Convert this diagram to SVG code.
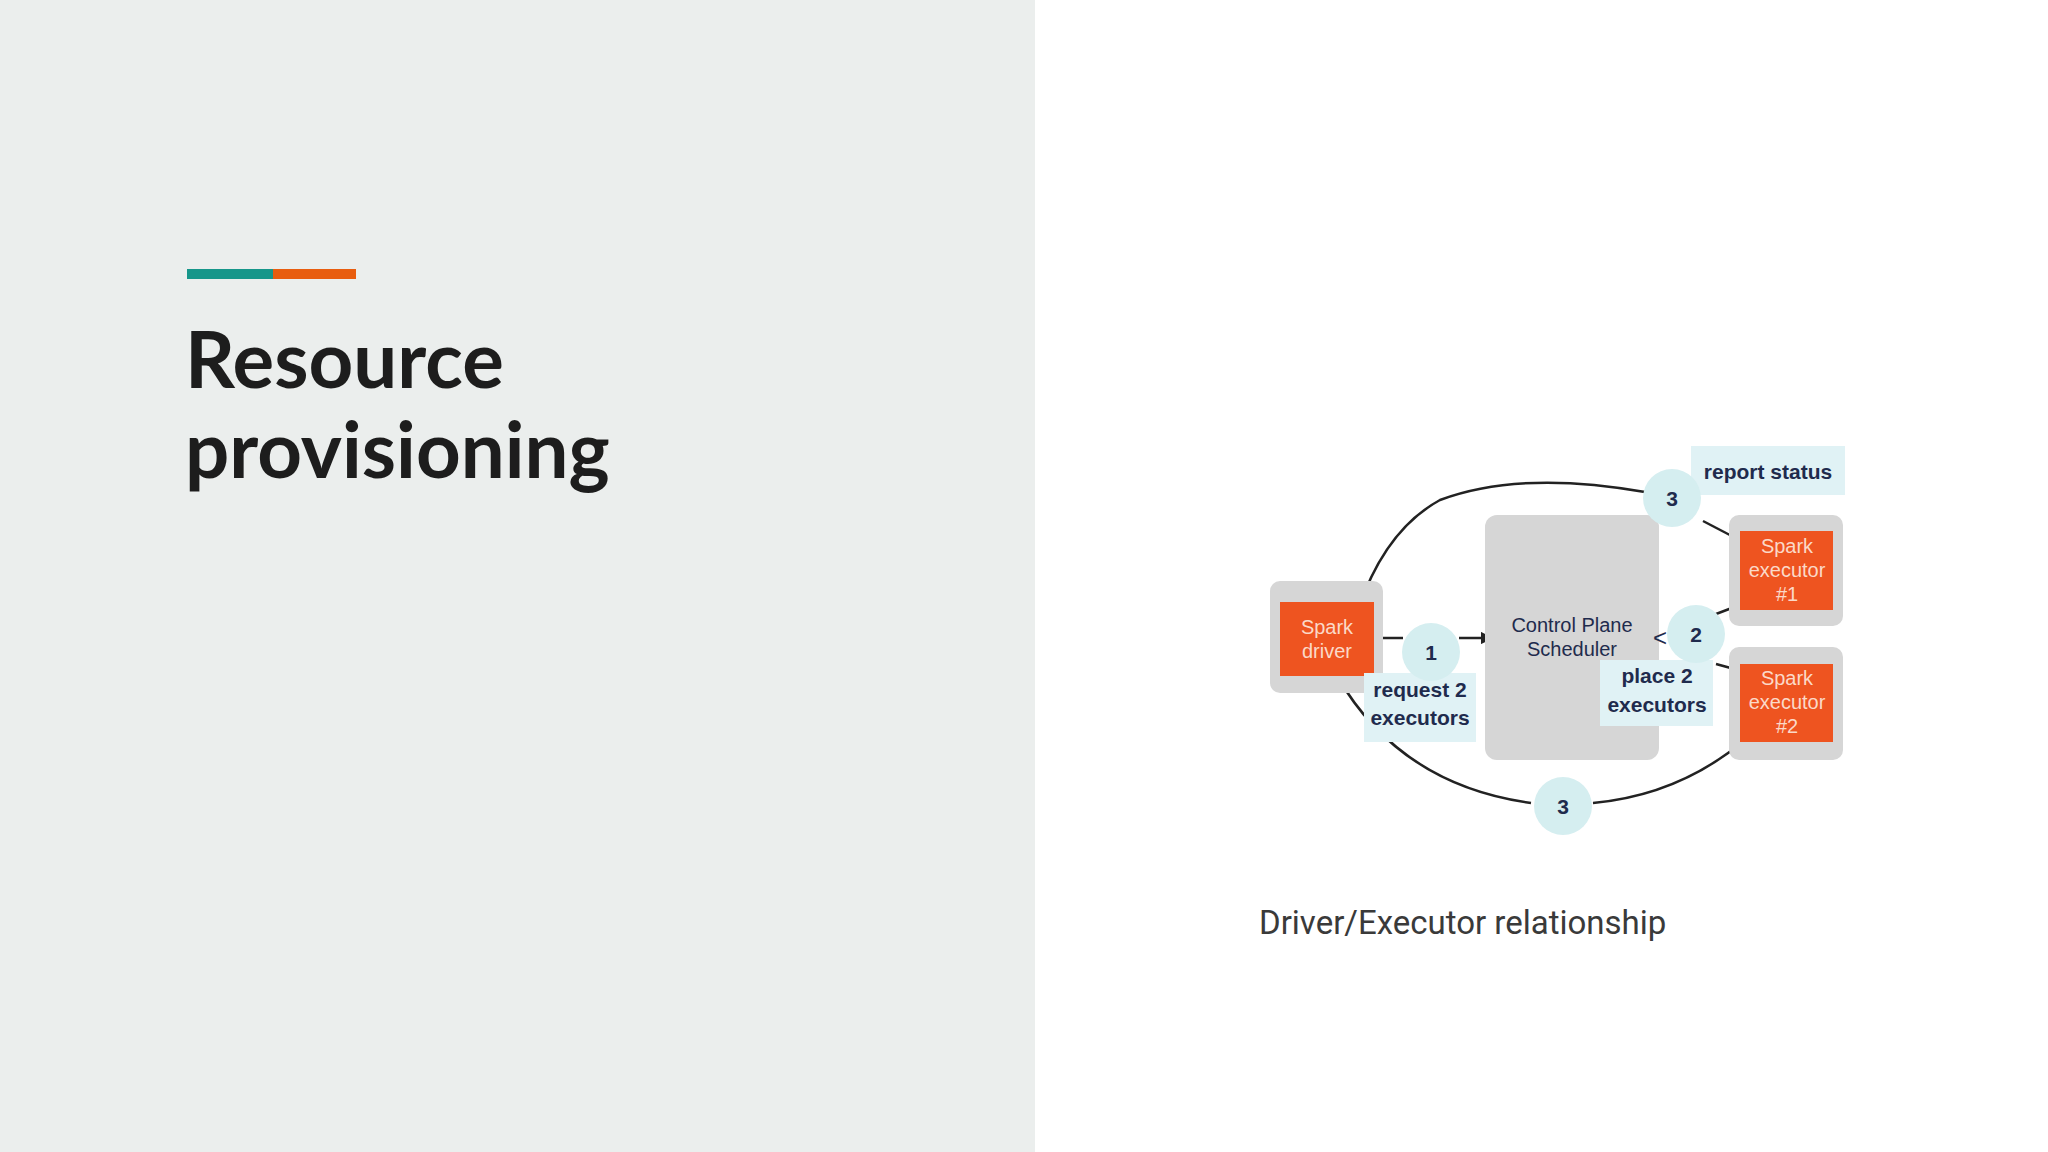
<svg xmlns="http://www.w3.org/2000/svg" width="2048" height="1152" viewBox="0 0 2048 1152">
<defs>
<style>
.t{font-family:"Liberation Sans",Arial,sans-serif;fill:#1f2b4d;font-weight:bold;text-anchor:middle}
.w{font-family:"Liberation Sans",Arial,sans-serif;fill:#fbd9c8;font-size:20px;text-anchor:middle}
.c{fill:#d5eef0}
.lb{fill:#e0f2f5}
.g{fill:#d6d6d6}
.o{fill:#ee5420}
.ln{fill:none;stroke:#222;stroke-width:2.5}
</style>
<marker id="a" viewBox="0 0 10 10" refX="9" refY="5" markerWidth="5" markerHeight="5" orient="auto"><path d="M0,0L10,5L0,10z" fill="#222"/></marker>
</defs>
<rect width="2048" height="1152" fill="#fff"/>
<rect width="1035" height="1152" fill="#ebeeed"/>
<rect x="187" y="269" width="86" height="10" fill="#16968a"/>
<rect x="273" y="269" width="83" height="10" fill="#e85d0f"/>
<text x="185" y="388" font-family="Lato,'Liberation Sans',sans-serif" font-weight="bold" font-size="78" fill="#1d1d1d">Resource</text>
<text x="185" y="478" font-family="Lato,'Liberation Sans',sans-serif" font-weight="bold" font-size="78" fill="#1d1d1d">provisioning</text>
<g id="connectors">
<path class="ln" d="M1645,492 Q1520,470 1440,500 Q1385,530 1358,610" marker-end="url(#a)"/>
<path class="ln" d="M1703,521 L1749,545" marker-end="url(#a)"/>
<path class="ln" d="M1746,739 Q1680,795 1593,803"/>
<path class="ln" d="M1531,803 Q1400,785 1337,676" marker-end="url(#a)"/>
<path class="ln" d="M1380,638 L1403,638"/>
<path class="ln" d="M1459,638 L1492,638" marker-end="url(#a)"/>
<path class="ln" d="M1716,614 L1745,603" marker-end="url(#a)"/>
<path class="ln" d="M1716,664 L1749,673" marker-end="url(#a)"/>
</g>
<g id="driver"><rect class="g" x="1270" y="581" width="113" height="112" rx="10"/><rect class="o" x="1280" y="602" width="94" height="74"/>
<text class="w" x="1327" y="634">Spark</text><text class="w" x="1327" y="658">driver</text></g>
<g id="scheduler"><rect class="g" x="1485" y="515" width="174" height="245" rx="12"/>
<text class="t" x="1572" y="632" font-size="20" font-weight="normal" style="font-weight:normal">Control Plane</text>
<text class="t" x="1572" y="656" font-size="20" style="font-weight:normal">Scheduler</text>
<text class="t" x="1660" y="646" font-size="24" style="font-weight:normal">&lt;</text></g>
<g id="exec1"><rect class="g" x="1729" y="515" width="114" height="111" rx="10"/><rect class="o" x="1740" y="531" width="93" height="79"/>
<text class="w" x="1787" y="553">Spark</text><text class="w" x="1787" y="577">executor</text><text class="w" x="1787" y="601">#1</text></g>
<g id="exec2"><rect class="g" x="1729" y="647" width="114" height="113" rx="10"/><rect class="o" x="1740" y="664" width="93" height="78"/>
<text class="w" x="1787" y="685">Spark</text><text class="w" x="1787" y="709">executor</text><text class="w" x="1787" y="733">#2</text></g>
<g id="label-report"><rect class="lb" x="1691" y="446" width="154" height="49"/><text class="t" x="1768" y="479" font-size="21">report status</text></g>
<g id="label-request"><rect class="lb" x="1364" y="673" width="112" height="69"/><text class="t" x="1420" y="697" font-size="21">request 2</text><text class="t" x="1420" y="725" font-size="21">executors</text></g>
<g id="label-place"><rect class="lb" x="1600" y="660" width="113" height="66"/><text class="t" x="1657" y="683" font-size="21">place 2</text><text class="t" x="1657" y="712" font-size="21">executors</text></g>
<g id="step1"><circle class="c" cx="1431" cy="652" r="29"/><text class="t" x="1431" y="660" font-size="21">1</text></g>
<g id="step2"><circle class="c" cx="1696" cy="634" r="29"/><text class="t" x="1696" y="642" font-size="21">2</text></g>
<g id="step3a"><circle class="c" cx="1672" cy="498" r="29"/><text class="t" x="1672" y="506" font-size="21">3</text></g>
<g id="step3b"><circle class="c" cx="1563" cy="806" r="29"/><text class="t" x="1563" y="814" font-size="21">3</text></g>
<text x="1259" y="934" font-family="Roboto,'Liberation Sans',sans-serif" font-size="33" fill="#3a3a3a">Driver/Executor relationship</text>
</svg>
